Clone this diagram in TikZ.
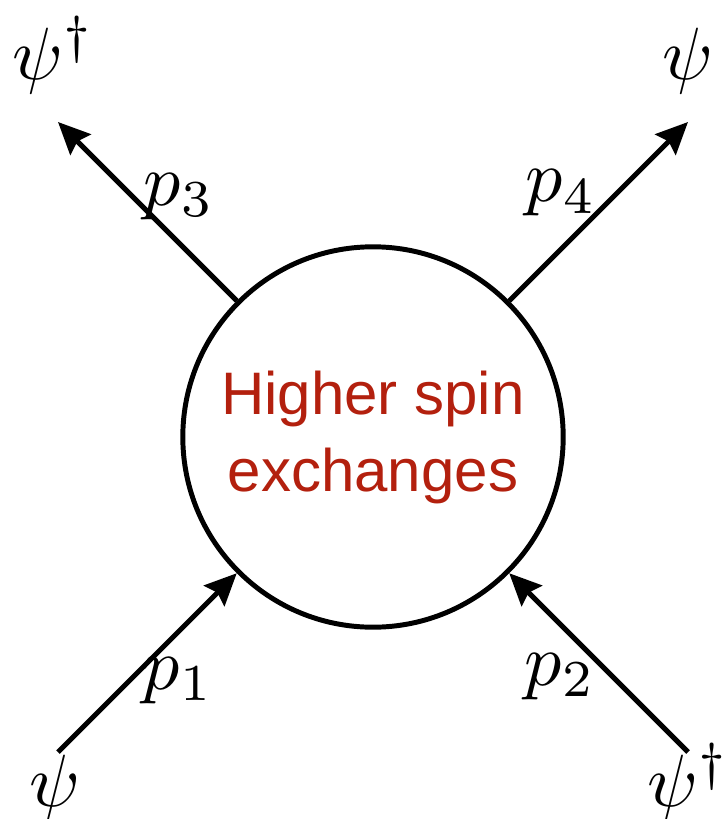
\documentclass[tikz,border=0pt]{standalone}
\usepackage{fontspec}
\usepackage{xcolor}
\usetikzlibrary{arrows.meta}
\newfontfamily\blobfont{Liberation Sans}
\definecolor{blob-red}{HTML}{B3200E}

\begin{document}
\begin{tikzpicture}[x=0.00475cm, y=-0.00475cm,
    leg/.style={line width=0.67pt, -{Stealth[length=4.3pt, width=3.9pt, inset=0.6pt]}},
    momentum/.style={anchor=base, inner sep=0pt},
    field/.style={anchor=base, inner sep=0pt}]
    % Diagram: 2 -> 2 scattering through one blob.
    % Coordinates: (x, y) in pixels of the 723x819 frame, y grows downward
    %   blob centre (373,437), diameter 380
    %   free ends of the legs at (58,122), (688,122), (58,752), (688,752)
    %   labels placed by their baselines
    \useasboundingbox (0,0) rectangle (723,819);
    \node[draw, circle, line width=0.67pt, minimum size=1.805cm, inner sep=0pt,
          align=center, text=blob-red, font=\blobfont\fontsize{8.1}{10.4}\selectfont]
          (blob) at (373,437) {Higher spin\\exchanges};
    \coordinate (in1) at (58,752);
    \coordinate (in2) at (688,752);
    \coordinate (out3) at (58,122);
    \coordinate (out4) at (688,122);
    \draw[leg] (in1) -- (blob.225);
    \draw[leg] (in2) -- (blob.315);
    \draw[leg] (blob.135) -- (out3);
    \draw[leg] (blob.45) -- (out4);
    % momenta
    \node[momentum] (p1) at (178,689) {$p_1$};
    \node[momentum] (p2) at (560,685) {$p_2$};
    \node[momentum] (p3) at (179,205) {$p_3$};
    \node[momentum] (p4) at (561,202) {$p_4$};
    % fields
    \node[field] (psi1) at (55,806) {$\psi$};
    \node[field] (psi2) at (688,806) {$\psi^\dagger$};
    \node[field] (psi3) at (53,79) {$\psi^\dagger$};
    \node[field] (psi4) at (688,79) {$\psi$};
\end{tikzpicture}
\end{document}
